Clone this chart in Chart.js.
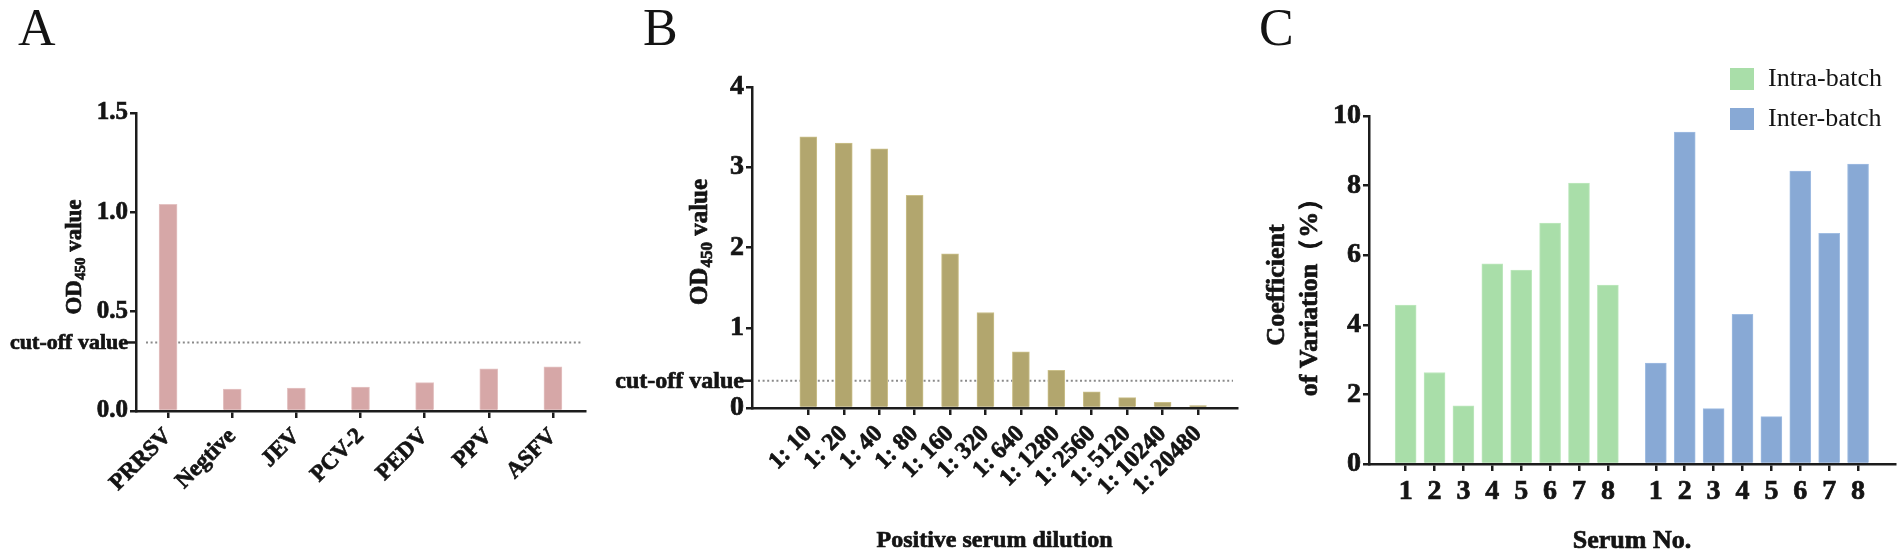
<!DOCTYPE html>
<html><head><meta charset="utf-8">
<script src="https://cdn.jsdelivr.net/npm/chart.js@4.4.1/dist/chart.umd.min.js"></script>
<style>
html,body{margin:0;padding:0;background:#fff;width:1902px;height:558px;overflow:hidden}
.p{position:absolute;top:0;height:558px}
canvas{display:block}
</style></head><body>
<div class="p" style="left:0;width:600px"><canvas id="cA" width="600" height="558"></canvas></div>
<div class="p" style="left:600px;width:660px"><canvas id="cB" width="660" height="558"></canvas></div>
<div class="p" style="left:1245px;width:657px"><canvas id="cC" width="657" height="558"></canvas></div>
<script>
// ---------- data ----------
const virusLabels = ['PRRSV', 'Negtive', 'JEV', 'PCV-2', 'PEDV', 'PPV', 'ASFV'];
const virusOD = [1.04, 0.11, 0.115, 0.12, 0.143, 0.212, 0.222];
const cutoffA = 0.345;
const yTicksA = [0, 0.5, 1.0, 1.5];

const dilutionLabels = ['1: 10', '1: 20', '1: 40', '1: 80', '1: 160', '1: 320', '1: 640', '1: 1280', '1: 2560', '1: 5120', '1: 10240', '1: 20480'];
const dilutionOD = [3.38, 3.30, 3.23, 2.65, 1.92, 1.19, 0.70, 0.47, 0.20, 0.13, 0.07, 0.03];
const cutoffB = 0.34;
const yTicksB = [0, 1, 2, 3, 4];

const serumLabels = ['1', '2', '3', '4', '5', '6', '7', '8'];
const intraCV = [4.57, 2.63, 1.67, 5.75, 5.57, 6.92, 8.07, 5.14];
const interCV = [2.90, 9.54, 1.59, 4.30, 1.36, 8.42, 6.63, 8.62];
const yTicksC = [0, 2, 4, 6, 8, 10];

// ---------- style ----------
const SERIF = "'Liberation Serif','Times New Roman',serif";
const INK = '#141414';
const AXIS = '#1c1c1c';
const STROKE = 0.7;
const GROUP_GAP = 8.66; // x offset of the second group in panel C

function yScale(ticksArr, size, width, fmt) {
  return {
    type: 'linear', min: ticksArr[0], max: ticksArr[ticksArr.length - 1],
    afterBuildTicks: s => { s.ticks = ticksArr.map(v => ({ value: v })); },
    afterFit: s => { s.width = width; },
    grid: { display: true, drawOnChartArea: false, drawTicks: true, tickLength: 6, color: AXIS, lineWidth: 2.5 },
    border: { display: true, color: AXIS, width: 2.5 },
    ticks: { color: INK, textStrokeColor: INK, textStrokeWidth: STROKE, font: { family: SERIF, weight: 'bold', size: size }, padding: 2, callback: fmt }
  };
}
function xStyle(height, size, rot, pad) {
  return {
    afterFit: s => { s.height = height; },
    grid: { display: true, drawOnChartArea: false, drawTicks: true, tickLength: 7, color: AXIS, lineWidth: 2.5, offset: false },
    border: { display: true, color: AXIS, width: 2.5 },
    ticks: { color: INK, textStrokeColor: INK, textStrokeWidth: STROKE, font: { family: SERIF, weight: 'bold', size: size }, padding: pad, autoSkip: false, minRotation: rot, maxRotation: rot }
  };
}
const baseOpts = {
  responsive: false, animation: false,
  plugins: { legend: { display: false }, tooltip: { enabled: false } }
};

function boldText(ctx, t, x, y) {
  ctx.fillText(t, x, y);
  ctx.lineWidth = STROKE; ctx.strokeStyle = INK; ctx.strokeText(t, x, y);
}
function cutoffPlugin(id, value, fontSize, startGap, endGap) {
  return {
    id: id,
    beforeDatasetsDraw(chart) {
      const { ctx, chartArea, scales } = chart;
      const py = scales.y.getPixelForValue(value);
      ctx.save();
      ctx.strokeStyle = '#8a8a8a'; ctx.lineWidth = 2; ctx.setLineDash([2, 2.6]);
      ctx.beginPath(); ctx.moveTo(chartArea.left + startGap, py); ctx.lineTo(chartArea.right - endGap, py); ctx.stroke();
      ctx.setLineDash([]);
      ctx.strokeStyle = AXIS; ctx.lineWidth = 2.5;
      ctx.beginPath(); ctx.moveTo(chartArea.left - 9, py); ctx.lineTo(chartArea.left, py); ctx.stroke();
      ctx.fillStyle = INK; ctx.font = 'bold ' + fontSize + 'px ' + SERIF;
      ctx.textAlign = 'right'; ctx.textBaseline = 'middle';
      boldText(ctx, 'cut-off value', chartArea.left - 8, py + 1);
      ctx.restore();
    }
  };
}
function drawOD(ctx, cx, cy, size) {
  ctx.save();
  ctx.translate(cx, cy); ctx.rotate(-Math.PI / 2);
  const big = 'bold ' + size + 'px ' + SERIF, small = 'bold ' + Math.round(size * 0.66) + 'px ' + SERIF;
  ctx.font = big; const w1 = ctx.measureText('OD').width, w3 = ctx.measureText(' value').width;
  ctx.font = small; const w2 = ctx.measureText('450').width;
  let x = -(w1 + w2 + w3) / 2;
  const base = size * 0.33;
  ctx.fillStyle = INK; ctx.textAlign = 'left'; ctx.textBaseline = 'alphabetic';
  ctx.font = big; boldText(ctx, 'OD', x, base); x += w1;
  ctx.font = small; boldText(ctx, '450', x, base + size * 0.2); x += w2;
  ctx.font = big; boldText(ctx, ' value', x, base);
  ctx.restore();
}
function letter(ctx, t, x, y) {
  ctx.fillStyle = INK; ctx.font = '52px ' + SERIF; ctx.textAlign = 'left'; ctx.textBaseline = 'alphabetic';
  ctx.fillText(t, x, y);
}

// ---------- Panel A ----------
new Chart(document.getElementById('cA'), {
  type: 'bar',
  data: { labels: virusLabels, datasets: [{ data: virusOD, backgroundColor: '#d6a7a7', borderColor: '#e4c3c3', borderWidth: 1, barThickness: 18 }] },
  options: Object.assign({}, baseOpts, {
    layout: { padding: { left: 0, top: 113, right: 15, bottom: 0 } },
    scales: {
      x: Object.assign({ type: 'category', offset: true }, xStyle(147, 23, 45, 5)),
      y: yScale(yTicksA, 25, 136, v => Number(v).toFixed(1))
    }
  }),
  plugins: [cutoffPlugin('cutA', cutoffA, 22, 10, 4), {
    id: 'txtA',
    afterDraw(chart) {
      const ctx = chart.ctx; ctx.save();
      letter(ctx, 'A', 18, 45);
      drawOD(ctx, 73, 257, 23);
      ctx.restore();
    }
  }]
});

// ---------- Panel B ----------
new Chart(document.getElementById('cB'), {
  type: 'bar',
  data: { datasets: [{ data: dilutionOD.map((v, i) => ({ x: i, y: v })), backgroundColor: '#b2a66e', borderColor: '#cbc08a', borderWidth: 1, barThickness: 17 }] },
  options: Object.assign({}, baseOpts, {
    layout: { padding: { left: 0, top: 87, right: 23, bottom: 0 } },
    scales: {
      x: Object.assign({
        type: 'linear', min: -1.02, max: 11.53,
        afterBuildTicks: s => { s.ticks = dilutionLabels.map((_, i) => ({ value: i })); }
      }, xStyle(150, 24, 45, 5)),
      y: yScale(yTicksB, 28, 152, v => String(v))
    }
  }),
  plugins: [cutoffPlugin('cutB', cutoffB, 24, 6, 4), {
    id: 'txtB',
    afterDraw(chart) {
      const ctx = chart.ctx; ctx.save();
      letter(ctx, 'B', 43, 45);
      drawOD(ctx, 99, 242, 25);
      const ca = chart.chartArea;
      ctx.fillStyle = INK; ctx.font = 'bold 24px ' + SERIF; ctx.textAlign = 'center'; ctx.textBaseline = 'middle';
      boldText(ctx, 'Positive serum dilution', (ca.left + ca.right) / 2, 541);
      ctx.restore();
    }
  }]
});
Chart.getChart('cB').options.scales.x.ticks.callback = (v, i) => dilutionLabels[i];
Chart.getChart('cB').update();

// ---------- Panel C ----------
const greenC = '#a9dea9', blueC = '#88a9d5';
new Chart(document.getElementById('cC'), {
  type: 'bar',
  data: {
    datasets: [
      { label: 'Intra-batch', data: intraCV.map((v, i) => ({ x: i, y: v })), backgroundColor: greenC, borderColor: '#bfe8bf', borderWidth: 1, barThickness: 21, grouped: false },
      { label: 'Inter-batch', data: interCV.map((v, i) => ({ x: i + GROUP_GAP, y: v })), backgroundColor: blueC, borderColor: '#a0bde2', borderWidth: 1, barThickness: 21, grouped: false }
    ]
  },
  options: Object.assign({}, baseOpts, {
    layout: { padding: { left: 0, top: 116, right: 7, bottom: 0 } },
    scales: {
      x: Object.assign({
        type: 'linear', min: -0.70, max: 16.37,
        afterBuildTicks: s => { s.ticks = serumLabels.map((_, i) => ({ value: i })).concat(serumLabels.map((_, i) => ({ value: i + GROUP_GAP }))); }
      }, xStyle(94, 28, 0, 4)),
      y: yScale(yTicksC, 28, 124, v => String(v))
    }
  }),
  plugins: [{
    id: 'txtC',
    afterDraw(chart) {
      const ctx = chart.ctx; const ca = chart.chartArea; ctx.save();
      letter(ctx, 'C', 14, 45);
      ctx.fillStyle = INK; ctx.font = 'bold 26px ' + SERIF; ctx.textAlign = 'center'; ctx.textBaseline = 'middle';
      ctx.save(); ctx.translate(32, 285); ctx.rotate(-Math.PI / 2); boldText(ctx, 'Coefficient', 0, 0); ctx.restore();
      ctx.save(); ctx.translate(65, 291); ctx.rotate(-Math.PI / 2); boldText(ctx, 'of Variation（%）', 0, 0); ctx.restore();
      boldText(ctx, 'Serum No.', (ca.left + ca.right) / 2, 541);
      const ds = chart.data.datasets;
      ds.forEach((d, k) => {
        const y0 = 68 + k * 40;
        ctx.fillStyle = d.backgroundColor; ctx.fillRect(ca.right - 165, y0, 24, 22);
        ctx.fillStyle = INK; ctx.font = '26px ' + SERIF; ctx.textAlign = 'left'; ctx.textBaseline = 'middle';
        ctx.fillText(d.label, ca.right - 127, y0 + 11);
      });
      ctx.restore();
    }
  }]
});
Chart.getChart('cC').options.scales.x.ticks.callback = (v, i) => serumLabels[i % serumLabels.length];
Chart.getChart('cC').update();
</script>
</body></html>
